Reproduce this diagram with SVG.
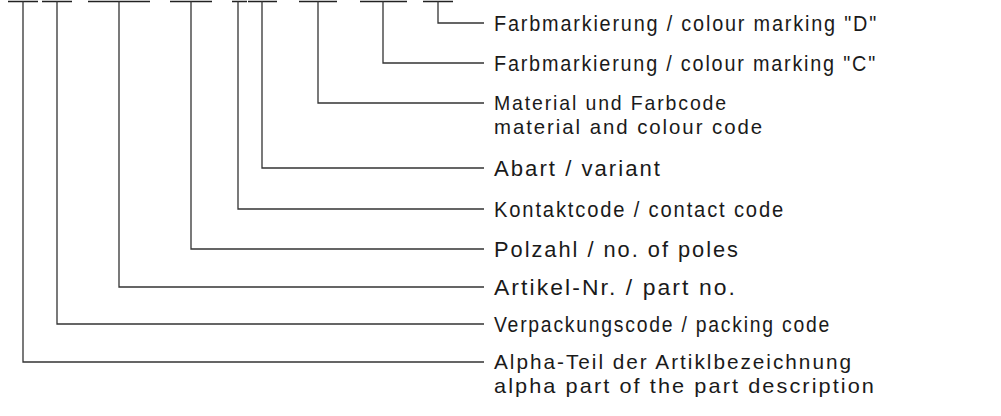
<svg xmlns="http://www.w3.org/2000/svg" width="1001" height="416" viewBox="0 0 1001 416">
<style>
.bar{stroke:#222;stroke-width:1.6;fill:none}
.ld{stroke:#333;stroke-width:1.3;fill:none}
.t{font-family:"Liberation Sans",Arial,sans-serif;font-size:22px;letter-spacing:2px;fill:#1a1a1a;font-weight:normal}
.t2{font-size:21px}
</style>
<rect width="1001" height="416" fill="#fff"/>
<g id="code-fields">
<path class="bar" d="M8 1.5H38M42 1.5H72M88 1.5H150M170 1.5H212M232 1.5H247M248 1.5H277M299 1.5H337M360 1.5H407M423 1.5H453"/>
</g>
<g id="connectors">
<path class="ld" d="M438 1V23H484"/>
<path class="ld" d="M383 1V63H484"/>
<path class="ld" d="M318 1V103H484"/>
<path class="ld" d="M262 1V168H484"/>
<path class="ld" d="M238 1V209H484"/>
<path class="ld" d="M191 1V249H484"/>
<path class="ld" d="M119 1V287H484"/>
<path class="ld" d="M57 1V324H484"/>
<path class="ld" d="M23 1V362H484"/>
</g>
<g id="label-d"><text class="t" x="494" y="31" textLength="384" lengthAdjust="spacingAndGlyphs">Farbmarkierung / colour marking "D"</text></g>
<g id="label-c"><text class="t" x="494" y="71" textLength="383" lengthAdjust="spacingAndGlyphs">Farbmarkierung / colour marking "C"</text></g>
<g id="label-material"><text class="t t2" x="494" y="110" textLength="234" lengthAdjust="spacingAndGlyphs">Material und Farbcode</text><text class="t t2" x="494" y="134" textLength="270" lengthAdjust="spacingAndGlyphs">material and colour code</text></g>
<g id="label-abart"><text class="t" x="494" y="176" textLength="168" lengthAdjust="spacingAndGlyphs">Abart / variant</text></g>
<g id="label-kontakt"><text class="t" x="494" y="217" textLength="291" lengthAdjust="spacingAndGlyphs">Kontaktcode / contact code</text></g>
<g id="label-polzahl"><text class="t" x="494" y="257" textLength="246" lengthAdjust="spacingAndGlyphs">Polzahl / no. of poles</text></g>
<g id="label-artikel"><text class="t" x="494" y="295" textLength="243" lengthAdjust="spacingAndGlyphs">Artikel-Nr. / part no.</text></g>
<g id="label-verpackung"><text class="t" x="494" y="332" textLength="337" lengthAdjust="spacingAndGlyphs">Verpackungscode / packing code</text></g>
<g id="label-alpha"><text class="t t2" x="494" y="369" textLength="359" lengthAdjust="spacingAndGlyphs">Alpha-Teil der Artiklbezeichnung</text><text class="t t2" x="494" y="393" textLength="382" lengthAdjust="spacingAndGlyphs">alpha part of the part description</text></g>
</svg>
